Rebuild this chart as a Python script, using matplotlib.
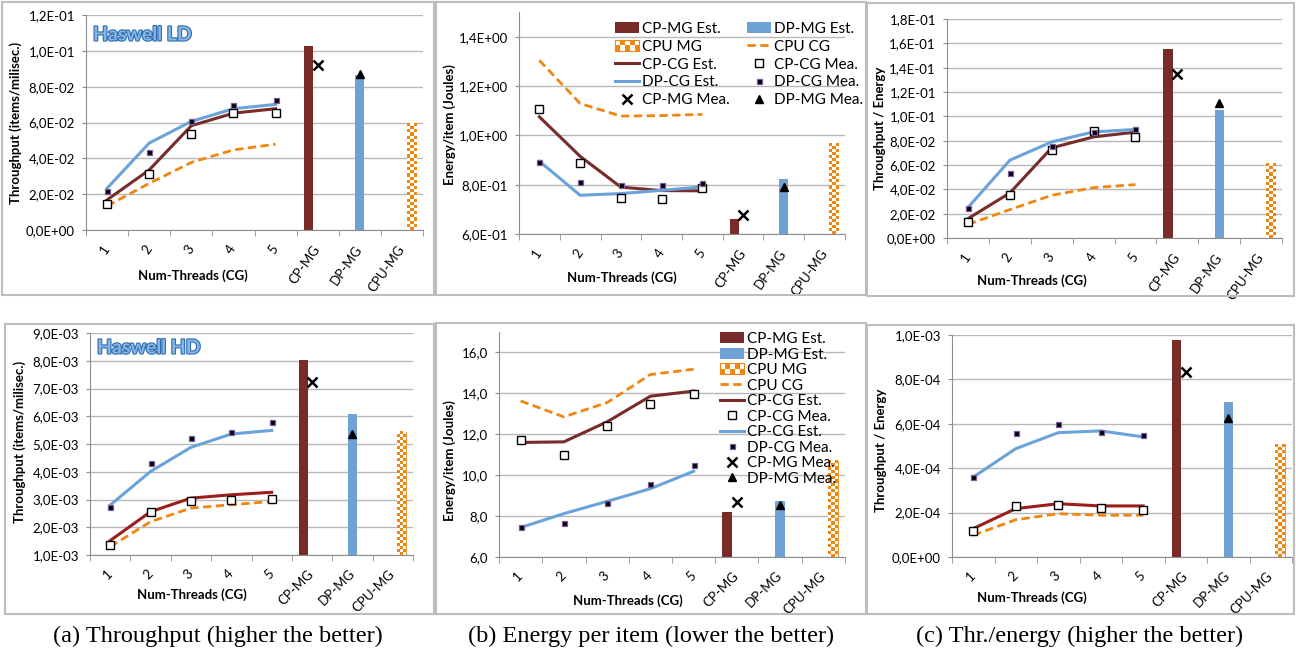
import numpy as np
import matplotlib
matplotlib.use('Agg')
import matplotlib.pyplot as plt
import matplotlib.patheffects as pe
from matplotlib.patches import Rectangle, Patch
from matplotlib.lines import Line2D
from matplotlib.legend_handler import HandlerBase
from matplotlib.colors import ListedColormap
from matplotlib.ticker import FuncFormatter

plt.rcParams['font.family'] = ['Lato', 'DejaVu Sans']

W, H = 1296, 654

cats = ['1', '2', '3', '4', '5', 'CP-MG', 'DP-MG', 'CPU-MG']

# Haswell LD - throughput
ld_thr_cp_est = [0.0168, 0.0335, 0.0582, 0.0652, 0.0677]
ld_thr_dp_est = [0.0233, 0.0485, 0.0606, 0.0677, 0.0701]
ld_thr_cpu_cg = [0.0134, 0.0260, 0.0377, 0.0447, 0.0479]
ld_thr_cp_mea = [0.0144, 0.0313, 0.0537, 0.0652, 0.0652]
ld_thr_dp_mea = [0.0218, 0.0434, 0.0610, 0.0697, 0.0723]
ld_thr_bars = [0.1029, 0.0865, 0.0593]
ld_thr_mg_mea = [0.0919, 0.0872]

# Haswell LD - energy per item
ld_en_cp_est = [1.075, 0.915, 0.790, 0.776, 0.775]
ld_en_dp_est = [0.895, 0.757, 0.764, 0.777, 0.791]
ld_en_cpu_cg = [1.304, 1.129, 1.078, 1.080, 1.085]
ld_en_cp_mea = [1.105, 0.888, 0.745, 0.742, 0.785]
ld_en_dp_mea = [0.892, 0.810, 0.798, 0.798, 0.806]
ld_en_bars = [0.661, 0.821, 0.967]
ld_en_mg_mea = [0.676, 0.790]

# Haswell LD - throughput / energy
ld_te_cp_est = [0.0159, 0.0370, 0.0741, 0.0831, 0.0870]
ld_te_dp_est = [0.0250, 0.0639, 0.0790, 0.0872, 0.0892]
ld_te_cpu_cg = [0.0112, 0.0233, 0.0351, 0.0414, 0.0439]
ld_te_cp_mea = [0.0132, 0.0351, 0.0722, 0.0881, 0.0831]
ld_te_dp_mea = [0.0247, 0.0535, 0.0757, 0.0870, 0.0894]
ld_te_bars = [0.1553, 0.1051, 0.0612]
ld_te_mg_mea = [0.1347, 0.1106]

# Haswell HD - throughput
hd_thr_cp_est = [1.52e-3, 2.56e-3, 3.05e-3, 3.17e-3, 3.26e-3]
hd_thr_dp_est = [2.80e-3, 4.01e-3, 4.88e-3, 5.36e-3, 5.49e-3]
hd_thr_cpu_cg = [1.30e-3, 2.20e-3, 2.69e-3, 2.81e-3, 2.93e-3]
hd_thr_cp_mea = [1.36e-3, 2.56e-3, 2.95e-3, 2.99e-3, 3.02e-3]
hd_thr_dp_mea = [2.72e-3, 4.31e-3, 5.21e-3, 5.43e-3, 5.78e-3]
hd_thr_bars = [8.04e-3, 6.08e-3, 5.45e-3]
hd_thr_mg_mea = [7.25e-3, 5.36e-3]

# Haswell HD - energy per item
hd_en_cp_est = [11.60, 11.63, 12.61, 13.86, 14.11]
hd_en_dp_est = [7.44, 8.12, 8.72, 9.34, 10.19]
hd_en_cpu_cg = [13.63, 12.85, 13.55, 14.92, 15.18]
hd_en_cp_mea = [11.74, 11.01, 12.41, 13.50, 13.99]
hd_en_dp_mea = [7.47, 7.66, 8.66, 9.59, 10.52]
hd_en_bars = [8.19, 8.74, 10.70]
hd_en_mg_mea = [8.69, 8.56]

# Haswell HD - throughput / energy
hd_te_cp_est = [1.28e-4, 2.18e-4, 2.40e-4, 2.30e-4, 2.30e-4]
hd_te_dp_est = [3.60e-4, 4.88e-4, 5.60e-4, 5.68e-4, 5.41e-4]
hd_te_cpu_cg = [0.98e-4, 1.68e-4, 1.95e-4, 1.88e-4, 1.88e-4]
hd_te_cp_mea = [1.17e-4, 2.30e-4, 2.36e-4, 2.21e-4, 2.10e-4]
hd_te_dp_mea = [3.60e-4, 5.60e-4, 6.01e-4, 5.63e-4, 5.48e-4]
hd_te_bars = [9.76e-4, 6.97e-4, 5.08e-4]
hd_te_mg_mea = [8.33e-4, 6.28e-4]

brown = '#772C2A'
red_hd = '#9C1E1C'
blue_bar = '#6FA1D4'
blue_line = '#6AA3DA'
orange = '#F0860F'
grid_c = '#B8B8B8'
spine_c = '#8E8E8E'
frame_c = '#BDBDBD'

fig = plt.figure(figsize=(W / 100, H / 100), dpi=100)


def sci_fmt(v, pos=None):
    if abs(v) < 1e-15:
        return '0,0E+00'
    e = int(np.floor(np.log10(abs(v)) + 1e-9))
    m = v / 10 ** e
    return f'{m:.1f}'.replace('.', ',') + f'E{e:+03d}'


def dec_fmt(v, pos=None):
    return f'{v:.1f}'.replace('.', ',')


def checker_fill(ax, xc, w, base, top, box):
    # orange/white checkerboard clipped inside the CPU-MG bar
    ax_w = box[2] - box[0]
    ax_h = box[3] - box[1]
    y0, y1 = ax.get_ylim()
    w_px = w / 8 * ax_w
    h_px = (top - base) / (y1 - y0) * ax_h
    cell = w_px / 3
    nrow = max(1, int(round(h_px / cell)))
    arr = np.indices((nrow, 3)).sum(axis=0) % 2
    ax.imshow(arr, extent=[xc - w / 2, xc + w / 2, base, top], origin='lower',
              aspect='auto', interpolation='nearest', zorder=2.1,
              cmap=ListedColormap(['white', orange]))
    ax.set_xlim(-0.5, 7.5)
    ax.set_ylim(y0, y1)


class CheckerHandler(HandlerBase):
    def create_artists(self, legend, orig_handle, xdescent, ydescent,
                       width, height, fontsize, trans):
        arts = []
        cell = height / 2
        ncol = int(round(width / cell))
        cell_w = width / ncol
        for i in range(2):
            for j in range(ncol):
                if (i + j) % 2 == 0:
                    arts.append(Rectangle((-xdescent + j * cell_w, -ydescent + i * cell),
                                          cell_w, cell, fc=orange, ec='none', transform=trans))
        arts.append(Rectangle((-xdescent, -ydescent), width, height, fc='none',
                              ec=orange, lw=0.8, transform=trans))
        return arts


def draw_panel(box, cp_est, dp_est, cpu_cg, cp_mea, dp_mea, bars, mg_mea,
               ylim, yticks, fmt, cp_color, xlab_pos, ylab_pos, ylabel, rot):
    x0, y0, x1, y1 = box
    ax = fig.add_axes([x0 / W, 1 - y1 / H, (x1 - x0) / W, (y1 - y0) / H])
    n = np.arange(len(cats))
    xs = n[:5]
    base = ylim[0]
    w = 0.222
    ax.bar(n[5] - w, bars[0] - base, w, bottom=base, color=brown, zorder=2)
    ax.bar(n[6], bars[1] - base, w, bottom=base, color=blue_bar, zorder=2)
    ax.bar(n[7] + w, bars[2] - base, w, bottom=base, color='white',
           edgecolor=orange, lw=0.6, zorder=2)
    ax.set_xlim(-0.5, 7.5)
    ax.set_ylim(ylim)
    checker_fill(ax, n[7] + w, w, base, bars[2], box)

    ax.plot(xs, cpu_cg, color=orange, lw=2, dashes=(3, 1.6), zorder=3)
    ax.plot(xs, cp_est, color=cp_color, lw=2.2, zorder=3)
    ax.plot(xs, dp_est, color=blue_line, lw=2.2, zorder=3)
    ax.plot(xs, cp_mea, ls='none', marker='s', ms=5.5, mfc='white', mec='black', mew=1, zorder=4)
    ax.plot(xs, dp_mea, ls='none', marker='s', ms=3.6, mfc='black', mec='#7B5C9E', mew=0.9, zorder=4)
    ax.plot(n[5], mg_mea[0], ls='none', marker='x', ms=7, mec='black', mew=1.8, zorder=4)
    ax.plot(n[6], mg_mea[1], ls='none', marker='^', ms=5.5, color='black', zorder=4)

    ax.set_yticks(yticks)
    ax.yaxis.set_major_formatter(FuncFormatter(fmt))
    ax.set_xticks(n)
    ax.set_xticklabels(cats)
    ax.set_xticks(np.arange(-0.5, 8), minor=True)
    ax.tick_params(axis='x', which='major', length=0, pad=12, labelsize=9.5)
    ax.tick_params(axis='x', which='minor', length=4, color=spine_c)
    ax.tick_params(axis='y', length=3, color=spine_c, pad=5, labelsize=9.5)
    for lab in ax.get_xticklabels():
        lab.set_rotation(rot)
        lab.set_ha('right')
        lab.set_va('center')
        lab.set_rotation_mode('anchor')
    ax.grid(axis='y', color=grid_c, lw=1)
    ax.set_axisbelow(True)
    for s in ['top', 'right']:
        ax.spines[s].set_visible(False)
    for s in ['left', 'bottom']:
        ax.spines[s].set_color(spine_c)

    ax.set_xlabel('Num-Threads (CG)', fontsize=9.5, fontweight='bold')
    ax.xaxis.set_label_coords((xlab_pos[0] - x0) / (x1 - x0), (y1 - xlab_pos[1]) / (y1 - y0))
    ax.xaxis.label.set_va('center')
    ax.set_ylabel(ylabel, fontsize=9.5, fontweight='bold')
    ax.yaxis.set_label_coords((ylab_pos[0] - x0) / (x1 - x0), (y1 - ylab_pos[1]) / (y1 - y0))
    ax.yaxis.label.set_va('center')
    return ax


# panel frames
for fx0, fy0, fx1, fy1 in [(2, 2, 434, 295), (436, 2, 866, 295), (867, 3, 1294, 296),
                           (5, 324, 434, 614), (436, 323, 866, 614), (867, 325, 1294, 614)]:
    fig.add_artist(Rectangle((fx0 / W, 1 - fy1 / H), (fx1 - fx0) / W, (fy1 - fy0) / H,
                             transform=fig.transFigure, fill=False, ec=frame_c, lw=1.5))

ax_a = draw_panel((86, 15, 423, 230), ld_thr_cp_est, ld_thr_dp_est, ld_thr_cpu_cg,
                  ld_thr_cp_mea, ld_thr_dp_mea, ld_thr_bars, ld_thr_mg_mea,
                  (0, 0.12), np.round(np.arange(0, 0.1201, 0.02), 4), sci_fmt, brown,
                  (193, 276), (16, 123), 'Throughput (items/milisec.)', 55)
ax_b = draw_panel((519, 12, 845, 234), ld_en_cp_est, ld_en_dp_est, ld_en_cpu_cg,
                  ld_en_cp_mea, ld_en_dp_mea, ld_en_bars, ld_en_mg_mea,
                  (0.6, 1.5), np.round(np.arange(0.6, 1.401, 0.2), 2), sci_fmt, brown,
                  (622, 278), (450, 125), 'Energy/item (Joules)', 55)
ax_c = draw_panel((947, 19, 1282, 238), ld_te_cp_est, ld_te_dp_est, ld_te_cpu_cg,
                  ld_te_cp_mea, ld_te_dp_mea, ld_te_bars, ld_te_mg_mea,
                  (0, 0.18), np.round(np.arange(0, 0.1801, 0.02), 4), sci_fmt, brown,
                  (1032, 281), (880, 128), 'Throughput / Energy', 55)
ax_d = draw_panel((90, 333, 413, 555), hd_thr_cp_est, hd_thr_dp_est, hd_thr_cpu_cg,
                  hd_thr_cp_mea, hd_thr_dp_mea, hd_thr_bars, hd_thr_mg_mea,
                  (1e-3, 9e-3), np.round(np.arange(1e-3, 9.01e-3, 1e-3), 6), sci_fmt, red_hd,
                  (192, 595), (20, 442), 'Throughput (items/milisec.)', 45)
ax_e = draw_panel((499, 332, 845, 557), hd_en_cp_est, hd_en_dp_est, hd_en_cpu_cg,
                  hd_en_cp_mea, hd_en_dp_mea, hd_en_bars, hd_en_mg_mea,
                  (6, 17), np.arange(6, 16.1, 2), dec_fmt, brown,
                  (628, 601), (450, 461), 'Energy/item (Joules)', 45)
ax_f = draw_panel((952, 335, 1292, 557), hd_te_cp_est, hd_te_dp_est, hd_te_cpu_cg,
                  hd_te_cp_mea, hd_te_dp_mea, hd_te_bars, hd_te_mg_mea,
                  (0, 1e-3), np.round(np.arange(0, 1.001e-3, 2e-4), 6), sci_fmt, red_hd,
                  (1032, 598), (881, 450), 'Throughput / Energy', 45)

# panel titles
for txt, (tx, ty) in [('Haswell LD', (93, 35)), ('Haswell HD', (97, 348))]:
    fig.text(tx / W, 1 - ty / H, txt, fontsize=14, fontweight='bold', color='#86B6E6',
             ha='left', va='center',
             path_effects=[pe.Stroke(linewidth=3.2, foreground='white'),
                           pe.Stroke(linewidth=1.6, foreground='#2F6DAE'),
                           pe.Normal()])


def make_handles(cp_color, dp_label):
    h = {
        'CP-MG Est.': Patch(fc=brown, ec='none'),
        'DP-MG Est.': Patch(fc=blue_bar, ec='none'),
        'CPU MG': Patch(fc='white', ec=orange),
        'CPU CG': Line2D([], [], color=orange, lw=2, dashes=(3, 1.6)),
        'CP-CG Est.': Line2D([], [], color=cp_color, lw=2.2),
        'CP-CG Mea.': Line2D([], [], ls='none', marker='s', ms=5.5, mfc='white', mec='black', mew=1),
        dp_label: Line2D([], [], color=blue_line, lw=2.2),
        'DP-CG Mea.': Line2D([], [], ls='none', marker='s', ms=3.6, mfc='black', mec='#7B5C9E', mew=0.9),
        'CP-MG Mea.': Line2D([], [], ls='none', marker='x', ms=7, mec='black', mew=1.8),
        'DP-MG Mea.': Line2D([], [], ls='none', marker='^', ms=5.5, color='black'),
    }
    return h


leg_kw = dict(frameon=False, loc='upper left', borderpad=0, borderaxespad=0,
              handlelength=1.6, handletextpad=0.15, fontsize=11,
              bbox_transform=fig.transFigure)

# top energy legend: two columns
hb = make_handles(brown, 'DP-CG Est.')
col1 = ['CP-MG Est.', 'CPU MG', 'CP-CG Est.', 'DP-CG Est.', 'CP-MG Mea.']
col2 = ['DP-MG Est.', 'CPU CG', 'CP-CG Mea.', 'DP-CG Mea.', 'DP-MG Mea.']
l1 = ax_b.legend([hb[k] for k in col1], col1, bbox_to_anchor=(615 / W, 1 - 22 / H),
                 labelspacing=0.25, handler_map={hb['CPU MG']: CheckerHandler()}, **leg_kw)
ax_b.add_artist(l1)
ax_b.legend([hb[k] for k in col2], col2, bbox_to_anchor=(747 / W, 1 - 22 / H),
            labelspacing=0.25, **leg_kw)

# bottom energy legend: one column
he = make_handles(brown, 'CP-CG Est. ')
order = ['CP-MG Est.', 'DP-MG Est.', 'CPU MG', 'CPU CG', 'CP-CG Est.', 'CP-CG Mea.',
         'CP-CG Est. ', 'DP-CG Mea.', 'CP-MG Mea.', 'DP-MG Mea.']
ax_e.legend([he[k] for k in order], [k.strip() for k in order],
            bbox_to_anchor=(720 / W, 1 - 332 / H), labelspacing=0.1,
            handler_map={he['CPU MG']: CheckerHandler()}, **leg_kw)

# captions
for cx, txt in [(218, '(a) Throughput (higher the better)'),
                (651, '(b) Energy per item (lower the better)'),
                (1080, '(c) Thr./energy (higher the better)')]:
    fig.text(cx / W, 1 - 636 / H, txt, ha='center', va='center',
             family='Liberation Serif', fontsize=17.5)

fig.savefig('out.png', dpi=100)
